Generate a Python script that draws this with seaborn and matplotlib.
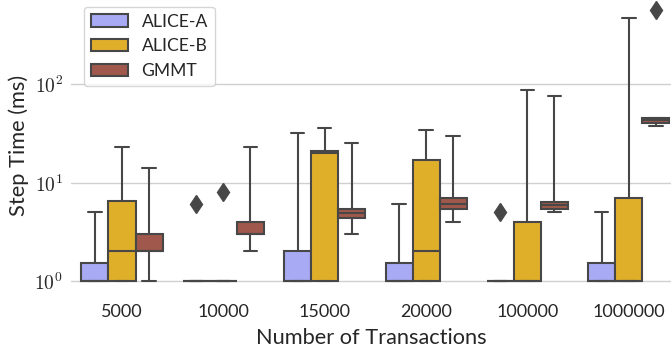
import numpy as np
import pandas as pd
import matplotlib
matplotlib.use("Agg")
import matplotlib.pyplot as plt
from matplotlib.ticker import FixedLocator, FuncFormatter, NullFormatter, NullLocator
import seaborn as sns

# ---- data (per-box samples) ----
transactions = ["5000", "10000", "15000", "20000", "100000", "1000000"]
methods = ["ALICE-A", "ALICE-B", "GMMT"]

alice_a = [
    [1, 1, 1, 1.5, 5],
    [1, 1, 1, 1, 1, 6],
    [1, 1, 1, 2, 32],
    [1, 1, 1, 1.5, 6],
    [1, 1, 1, 1, 1, 5],
    [1, 1, 1, 1.5, 5],
]
alice_b = [
    [1, 1, 2, 6.5, 23],
    [1, 1, 1, 1, 1, 8],
    [1, 1, 20, 21, 36],
    [1, 1, 2, 17, 34],
    [1, 1, 1, 4, 88],
    [1, 1, 1, 7, 470],
]
gmmt = [
    [1, 2, 2, 3, 14],
    [2, 3, 3, 4, 23],
    [3, 4.4, 4.9, 5.4, 25],
    [4, 5.4, 6.1, 6.9, 30],
    [5, 5.4, 5.9, 6.4, 76],
    [38, 40, 40.4, 42, 43, 44, 45.4, 45.4, 567],
]
colors = ["#a8abf4", "#e0af2a", "#a0584c"]
line_gray = "#474747"

rows = []
for method, samples in zip(methods, [alice_a, alice_b, gmmt]):
    for cat, vals in zip(transactions, samples):
        for v in vals:
            rows.append({"Number of Transactions": cat, "Step Time (ms)": v, "Method": method})
df = pd.DataFrame(rows)

sns.set_theme(style="whitegrid")
plt.rcParams["font.family"] = ["Lato", "DejaVu Sans"]
plt.rcParams["mathtext.fontset"] = "cm"

fig = plt.figure(figsize=(6.71, 3.49), dpi=100)
ax = fig.add_axes([0.1063, 0.157, 0.8942, 0.8521])

sns.boxplot(data=df, x="Number of Transactions", y="Step Time (ms)", hue="Method",
            order=transactions, hue_order=methods, palette=colors, saturation=1,
            log_scale=True, whis=16, linewidth=1.5, linecolor=line_gray, ax=ax,
            flierprops=dict(marker="d", markersize=9.5, markerfacecolor=line_gray,
                            markeredgecolor=line_gray))

ax.set_xlim(-0.5, 5.42)
ax.set_ylim(10 ** -0.138, 10 ** 2.892)
ax.yaxis.set_major_locator(FixedLocator([1, 10, 100]))
ax.yaxis.set_major_formatter(FuncFormatter(lambda v, p: r"$10^{%d}$" % int(round(np.log10(v)))))
ax.yaxis.set_minor_locator(NullLocator())
ax.yaxis.set_minor_formatter(NullFormatter())
ax.tick_params(axis="y", labelsize=14, pad=6, length=0)
ax.tick_params(axis="x", labelsize=13, pad=7, length=0)
ax.set_xlabel("Number of Transactions", fontsize=15.7, labelpad=6)
ax.set_ylabel("Step Time (ms)", fontsize=15.7, labelpad=4)
for s in ax.spines.values():
    s.set_visible(False)
ax.grid(axis="x", visible=False)
ax.grid(axis="y", color="#d0d0d0", linewidth=1)

handles, labels = ax.get_legend_handles_labels()
ax.legend(handles, labels, loc="upper left", fontsize=12.6, frameon=True,
          bbox_to_anchor=(0.012, 0.985), borderaxespad=0.3, handlelength=2.1,
          handletextpad=0.8, labelspacing=0.5)

fig.savefig("out.png", dpi=100)
